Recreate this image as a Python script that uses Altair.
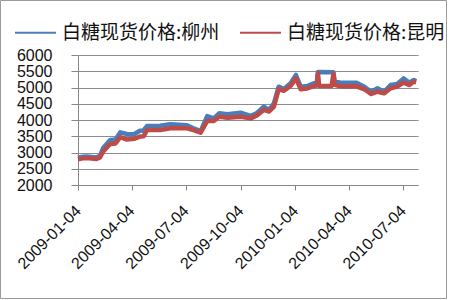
import altair as alt
import pandas as pd

dates = [
    "2009-01-04", "2009-01-12", "2009-01-19", "2009-02-04", "2009-02-10",
    "2009-02-15", "2009-02-27", "2009-03-08", "2009-03-16", "2009-03-27",
    "2009-04-08", "2009-04-18", "2009-04-24", "2009-04-30", "2009-05-22",
    "2009-06-08", "2009-07-06", "2009-07-17", "2009-07-29", "2009-08-09",
    "2009-08-20", "2009-08-29", "2009-09-12", "2009-10-04", "2009-10-21",
    "2009-11-01", "2009-11-12", "2009-11-21", "2009-11-29", "2009-12-07",
    "2009-12-16", "2009-12-27", "2010-01-05", "2010-01-13", "2010-01-24",
    "2010-02-04", "2010-02-09", "2010-02-11", "2010-02-13", "2010-03-06",
    "2010-03-09", "2010-03-11", "2010-03-20", "2010-04-02", "2010-04-16",
    "2010-04-30", "2010-05-11", "2010-05-22", "2010-06-02", "2010-06-13",
    "2010-06-24", "2010-07-05", "2010-07-14", "2010-07-22", "2010-07-26",
]
liuzhou = [
    2840, 2870, 2880, 2850, 2900,
    3130, 3385, 3400, 3620, 3570,
    3560, 3670, 3680, 3815, 3825,
    3870, 3835, 3745, 3660, 4120,
    4050, 4205, 4175, 4225, 4125,
    4225, 4410, 4310, 4515, 5025,
    4955, 5130, 5385, 5025, 5045,
    5130, 5130, 5480, 5480, 5470,
    5470, 5200, 5150, 5150, 5150,
    5025, 4870, 4975, 4870, 5075,
    5110, 5280, 5150, 5230, 5200,
]
kunming = [
    2790, 2820, 2830, 2800, 2850,
    3025, 3260, 3280, 3470, 3400,
    3420, 3490, 3500, 3690, 3690,
    3745, 3745, 3690, 3610, 3970,
    3970, 4100, 4070, 4100, 4050,
    4150, 4310, 4260, 4410, 4945,
    4900, 5045, 5280, 4945, 4970,
    5045, 5060, 5440, 5050, 5050,
    5430, 5080, 5040, 5030, 5045,
    4945, 4800, 4870, 4820, 4975,
    5030, 5150, 5075, 5180, 5170,
]
series_names = ["白糖现货价格:柳州", "白糖现货价格:昆明"]
series_colors = ["#4A7EBB", "#BE4B48"]
y_ticks = [2000, 2500, 3000, 3500, 4000, 4500, 5000, 5500, 6000]
x_ticks = ["2009-01-04", "2009-04-04", "2009-07-04", "2009-10-04",
           "2010-01-04", "2010-04-04", "2010-07-04"]

rows = []
for i, d in enumerate(dates):
    rows.append({"date": d, "series": series_names[0], "value": liuzhou[i], "order": 0})
for i, d in enumerate(dates):
    rows.append({"date": d, "series": series_names[1], "value": kunming[i], "order": 1})
df = pd.DataFrame(rows)


def dt(s):
    y, m, d = [int(p) for p in s.split("-")]
    return alt.DateTime(year=y, month=m, date=d, utc=True)


lines = alt.Chart(df).mark_line(strokeWidth=4.5, strokeJoin="round").encode(
    x=alt.X(
        "date:T",
        scale=alt.Scale(type="utc", domain=[dt("2009-01-04"), dt("2010-07-29")]),
        axis=alt.Axis(
            values=[dt(s) for s in x_ticks],
            format="%Y-%m-%d",
            labelAngle=-45,
            labelAlign="right",
            labelBaseline="middle",
            labelPadding=18,
            labelOverlap=False,
            labelBound=False,
            labelFlush=False,
            title=None,
            grid=False,
            tickSize=5,
        ),
    ),
    y=alt.Y(
        "value:Q",
        scale=alt.Scale(domain=[2000, 6000], nice=False, zero=False),
        axis=alt.Axis(values=y_ticks, format="d", title=None, grid=True,
                      tickSize=7, labelPadding=19, labelOverlap=False),
    ),
    color=alt.Color(
        "series:N",
        scale=alt.Scale(domain=series_names, range=series_colors),
        legend=alt.Legend(
            title=None,
            orient="none",
            legendX=-64,
            legendY=-44,
            direction="horizontal",
            symbolType="stroke",
            symbolSize=1681,
            symbolStrokeWidth=2,
            labelFontSize=19,
            labelFont="Noto Sans CJK SC",
            labelColor="#111111",
            labelOffset=5,
            columnPadding=16,
        ),
    ),
    order="order:Q",
)

frame_df = pd.DataFrame({"k": [0]})
frame = alt.Chart(frame_df).mark_rect(
    fill=None, stroke="#9a9a9a", strokeWidth=1
).encode(
    x=alt.value(-77.5), x2=alt.value(368.5),
    y=alt.value(-54.5), y2=alt.value(243.5),
)

chart = alt.layer(lines, frame).properties(
    width=340,
    height=130,
    autosize=alt.AutoSizeParams(type="none"),
    padding={"left": 78, "top": 55, "right": 32, "bottom": 115},
    background="white",
).configure_view(stroke=None).configure_axis(
    domainColor="#868686",
    tickColor="#868686",
    gridColor="#8c8c8c",
    labelFont="Liberation Sans",
    labelFontSize=16,
    labelColor="#111111",
)

chart.save("out.html", embed_options={"renderer": "svg", "actions": False})
